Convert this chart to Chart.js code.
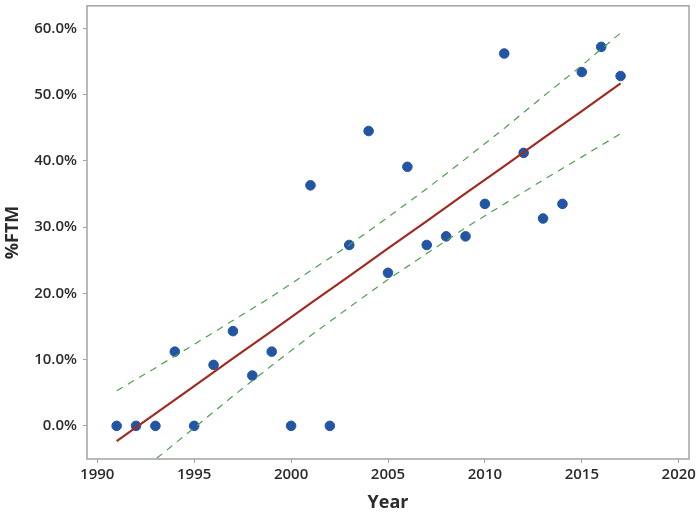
<!DOCTYPE html>
<html>
<head>
<meta charset="utf-8">
<script src="https://cdn.jsdelivr.net/npm/chart.js@4"></script>
<style>
  html, body { margin: 0; padding: 0; background: #fff; }
  #wrap { width: 700px; height: 514px; }
</style>
</head>
<body>
<div id="wrap"><canvas id="ftmChart"></canvas></div>
<script>
// observed %FTM by year
const years = [1991, 1992, 1993, 1994, 1995, 1996, 1997, 1998, 1999, 2000, 2001, 2002, 2003, 2004,
  2005, 2006, 2007, 2008, 2009, 2010, 2011, 2012, 2013, 2014, 2015, 2016, 2017];
const ftm = [0, 0, 0, 11.2, 0, 9.2, 14.3, 7.6, 11.2, 0, 36.3, 0, 27.3, 44.5,
  23.1, 39.1, 27.3, 28.6, 28.6, 33.5, 56.2, 41.2, 31.3, 33.5, 53.4, 57.2, 52.8];

// fitted line and confidence band
const fitYears = [1991, 1993, 1995, 1997, 1999, 2001, 2003, 2005, 2007, 2009, 2011, 2013, 2015, 2017];
const fitLine = [-2.3, 1.85, 6.0, 10.2, 14.3, 18.5, 22.6, 26.8, 30.9, 35.1, 39.2, 43.4, 47.5, 51.7];
const upperBand = [5.3, 8.75, 12.3, 15.9, 19.5, 23.4, 27.3, 31.5, 35.8, 40.3, 44.9, 49.7, 54.4, 59.3];
const lowerBand = [-9.9, -5.05, -0.3, 4.5, 9.1, 13.6, 17.9, 22.1, 26.0, 29.9, 33.5, 37.1, 40.6, 44.1];

const yTicks = [0, 10, 20, 30, 40, 50, 60];
const xTicks = [1990, 1995, 2000, 2005, 2010, 2015, 2020];

const pts = (xs, ys) => xs.map((x, i) => ({ x: x, y: ys[i] }));

const textColor = "#2b2b2b";
const axisGray = "#a3a3a3";

// draws the gray box round the plot area
const frame = {
  id: "frame",
  afterDraw(chart) {
    const a = chart.chartArea;
    const c = chart.ctx;
    c.save();
    c.strokeStyle = axisGray;
    c.lineWidth = 1.5;
    c.strokeRect(a.left, a.top, a.right - a.left, a.bottom - a.top);
    c.restore();
  }
};

new Chart(document.getElementById("ftmChart"), {
  type: "scatter",
  data: {
    datasets: [
      {
        label: "upper",
        data: pts(fitYears, upperBand),
        showLine: true,
        borderColor: "#4f9e4f",
        borderWidth: 1.2,
        borderDash: [7, 6],
        pointRadius: 0,
        clip: 0
      },
      {
        label: "lower",
        data: pts(fitYears, lowerBand),
        showLine: true,
        borderColor: "#4f9e4f",
        borderWidth: 1.2,
        borderDash: [7, 6],
        pointRadius: 0,
        clip: 0
      },
      {
        label: "fit",
        data: pts(fitYears, fitLine),
        showLine: true,
        borderColor: "#a32a20",
        borderWidth: 2.2,
        pointRadius: 0,
        clip: 0
      },
      {
        label: "%FTM",
        data: pts(years, ftm),
        backgroundColor: "#2255a4",
        borderColor: "#2255a4",
        pointRadius: 4.8,
        pointHoverRadius: 4.8
      }
    ]
  },
  options: {
    responsive: true,
    maintainAspectRatio: false,
    animation: false,
    events: [],
    layout: { padding: { top: 2, right: 11, bottom: 0, left: 0 } },
    plugins: {
      legend: { display: false },
      tooltip: { enabled: false }
    },
    scales: {
      x: {
        type: "linear",
        min: 1989.47,
        max: 2020.53,
        afterBuildTicks: (s) => { s.ticks = xTicks.map((v) => ({ value: v })); },
        afterFit: (s) => { s.height = 55; s.paddingLeft = 0; s.paddingRight = 0; },
        ticks: {
          color: textColor,
          font: { family: "Open Sans", size: 15, weight: "600" },
          padding: 3,
          maxRotation: 0,
          callback: (v) => String(v)
        },
        grid: { drawOnChartArea: false, drawTicks: true, tickLength: 4, color: axisGray },
        border: { display: false },
        title: {
          display: true,
          text: "Year",
          color: textColor,
          font: { family: "Open Sans", size: 18, weight: "bold" },
          padding: { top: 0, bottom: 0 }
        }
      },
      y: {
        min: -5,
        max: 63.4,
        afterBuildTicks: (s) => { s.ticks = yTicks.map((v) => ({ value: v })); },
        afterFit: (s) => { s.width = 87; s.paddingTop = 0; s.paddingBottom = 0; },
        ticks: {
          color: textColor,
          font: { family: "Open Sans", size: 15, weight: "600" },
          padding: 6,
          callback: (v) => v.toFixed(1) + "%"
        },
        grid: { drawOnChartArea: false, drawTicks: true, tickLength: 4, color: axisGray },
        border: { display: false },
        title: {
          display: true,
          text: "%FTM",
          color: textColor,
          font: { family: "Open Sans", size: 18, weight: "bold" },
          padding: { top: 2, bottom: 0 }
        }
      }
    }
  },
  plugins: [frame]
});
</script>
</body>
</html>
